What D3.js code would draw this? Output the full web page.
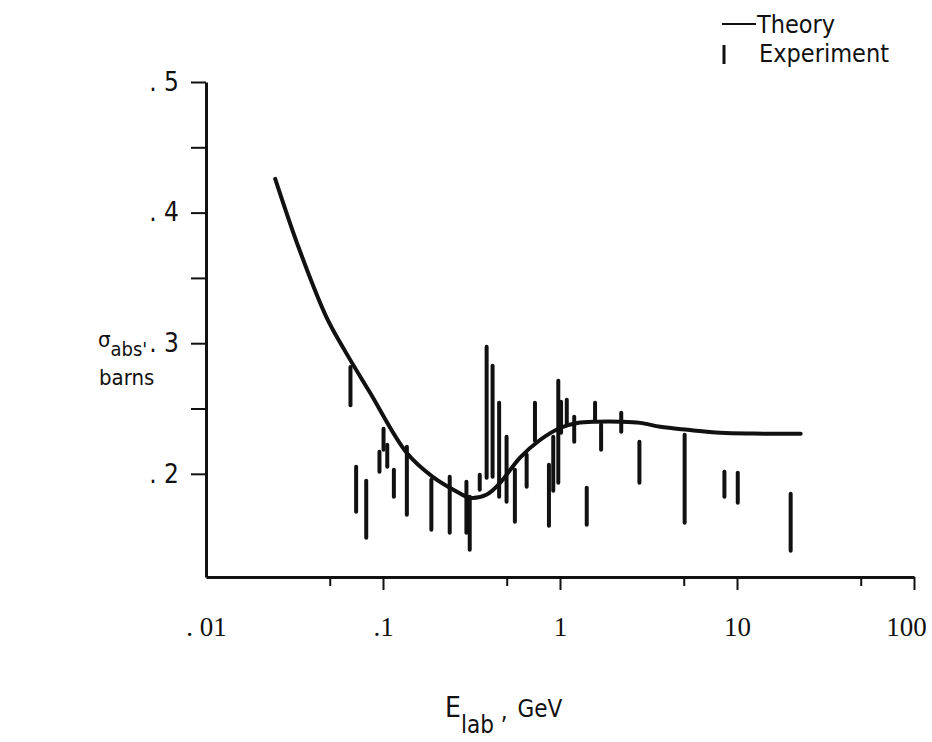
<!DOCTYPE html>
<html>
<head>
<meta charset="utf-8">
<script src="https://cdn.jsdelivr.net/npm/d3@7"></script>
<style>
  body { margin: 0; background: #fff; }
  .sans { font-family: "DejaVu Sans Condensed", "Liberation Sans Narrow", "DejaVu Sans", sans-serif; font-stretch: condensed; }
</style>
</head>
<body>
<div id="chart"></div>
<script>
// Theory curve (E in GeV, sigma in barns)
const theoryEnergy = [0.0246, 0.0337, 0.0479, 0.0605, 0.0839, 0.136, 0.191, 0.271, 0.309, 0.386,
    0.457, 0.593, 0.771, 1.0, 1.25, 1.62, 2.19, 2.84, 3.69, 5.25, 8.07, 12.4, 22.9];
const theorySigma = [0.4259, 0.3717, 0.3200, 0.2949, 0.2628, 0.2161, 0.1977, 0.1852, 0.1816, 0.1842,
    0.1928, 0.2123, 0.2259, 0.2351, 0.2389, 0.2399, 0.2399, 0.2390, 0.2360, 0.2337, 0.2314, 0.2308, 0.2307];

// Experimental points: energy and the top / bottom of each error bar
const expEnergy = [0.0655, 0.0705, 0.0804, 0.0955, 0.1007, 0.1057, 0.1152, 0.1364, 0.1876, 0.2382,
    0.296, 0.309, 0.352, 0.385, 0.416, 0.453, 0.499, 0.556, 0.648, 0.722,
    0.866, 0.916, 0.978, 1.014, 1.092, 1.203, 1.416, 1.578, 1.707, 2.218,
    2.81, 5.06, 8.49, 10.1, 20.1];
const expHigh = [0.2817, 0.2054, 0.1947, 0.2169, 0.2345, 0.2222, 0.2031, 0.2207, 0.1954, 0.1977,
    0.1939, 0.1824, 0.1993, 0.2973, 0.2827, 0.2544, 0.2284, 0.2031, 0.2146, 0.2544,
    0.2069, 0.2284, 0.2712, 0.2552, 0.2567, 0.2437, 0.1894, 0.2544, 0.2375, 0.2467,
    0.2245, 0.2299, 0.2016, 0.2009, 0.1847];
const expLow = [0.2525, 0.1709, 0.1511, 0.2016, 0.2184, 0.2054, 0.1824, 0.1686, 0.1571, 0.1549,
    0.1549, 0.1419, 0.1878, 0.1969, 0.1977, 0.1824, 0.1786, 0.1633, 0.1901, 0.2252,
    0.1603, 0.1871, 0.1932, 0.2314, 0.2375, 0.2245, 0.1611, 0.2414, 0.2184, 0.2322,
    0.1932, 0.1626, 0.1824, 0.1779, 0.1411];

// Ticks
const yTicks = [0.2, 0.25, 0.3, 0.35, 0.4, 0.45, 0.5];
const yTickLabels = [". 2", "", ". 3", "", ". 4", "", ". 5"];
const xTicks = [0.01, 0.05, 0.1, 0.5, 1, 5, 10, 50, 100];
const xTickLabels = [". 01", "", ".1", "", "1", "", "10", "", "100"];

const width = 932;
const height = 742;

const svg = d3.select("#chart")
    .append("svg")
    .attr("width", width)
    .attr("height", height)
    .style("background", "#fff");

// Scales
const x = d3.scaleLog()
    .domain([0.01, 100])
    .range([206, 914]);

const y = d3.scaleLinear()
    .domain([0.121, 0.5])
    .range([577, 82]);

// Y axis
const yAxis = svg.append("g")
    .attr("transform", "translate(206,0)")
    .call(d3.axisLeft(y)
        .tickValues(yTicks)
        .tickSize(15)
        .tickSizeOuter(0)
        .tickPadding(12)
        .tickFormat((d, i) => yTickLabels[i]));

yAxis.selectAll("text")
    .attr("class", "sans")
    .style("font-size", "26px")
    .attr("fill", "#111");

// X axis
const xAxis = svg.append("g")
    .attr("transform", "translate(0,577)")
    .call(d3.axisBottom(x)
        .tickValues(xTicks)
        .tickSize(13)
        .tickSizeOuter(0)
        .tickPadding(27)
        .tickFormat((d, i) => xTickLabels[i]));

xAxis.selectAll("text")
    .style("font-family", "'Liberation Serif', serif")
    .style("font-size", "27px")
    .attr("fill", "#111")
    .attr("dx", (d, i) => i === xTicks.length - 1 ? -8 : 0);

// minor ticks are shorter, first tick sits on the corner
xAxis.selectAll(".tick line")
    .attr("y2", (d, i) => xTickLabels[i] === "" ? 9 : 13)
    .attr("opacity", (d, i) => i === 0 ? 0 : 1);

svg.selectAll(".domain")
    .attr("stroke", "#111")
    .attr("stroke-width", 3);
svg.selectAll(".tick line")
    .attr("stroke", "#111")
    .attr("stroke-width", 2);

// Experimental bars
svg.append("g")
    .selectAll("line")
    .data(expEnergy)
    .join("line")
    .attr("x1", d => x(d))
    .attr("x2", d => x(d))
    .attr("y1", (d, i) => y(expHigh[i]))
    .attr("y2", (d, i) => y(expLow[i]))
    .attr("stroke", "#111")
    .attr("stroke-width", 4)
    .attr("stroke-linecap", "round");

// Theory curve
const line = d3.line()
    .x(d => x(d[0]))
    .y(d => y(d[1]))
    .curve(d3.curveCatmullRom.alpha(0.5));

svg.append("path")
    .datum(theoryEnergy.map((e, i) => [e, theorySigma[i]]))
    .attr("d", line)
    .attr("fill", "none")
    .attr("stroke", "#111")
    .attr("stroke-width", 4)
    .attr("stroke-linecap", "round");

// Y axis title
const yTitle = svg.append("text")
    .attr("class", "sans")
    .attr("x", 98)
    .attr("y", 347)
    .attr("fill", "#111")
    .style("font-size", "22px");
yTitle.append("tspan").text("σ");
yTitle.append("tspan").attr("dy", 9).style("font-size", "20px").text("abs'");

svg.append("text")
    .attr("class", "sans")
    .attr("x", 99)
    .attr("y", 385)
    .attr("fill", "#111")
    .style("font-size", "22px")
    .text("barns");

// X axis title
const xTitle = svg.append("text")
    .attr("class", "sans")
    .attr("x", 445)
    .attr("y", 717)
    .attr("fill", "#111")
    .style("font-size", "28px");
xTitle.append("tspan").text("E");
xTitle.append("tspan").attr("dy", 16).style("font-size", "24px").text("lab");
xTitle.append("tspan").attr("dy", -14).style("font-size", "24px").text(" ,");
xTitle.append("tspan").attr("dy", -2).attr("dx", 10).style("font-size", "24px").text("GeV");

// Legend
svg.append("line")
    .attr("x1", 722).attr("x2", 756)
    .attr("y1", 24).attr("y2", 24)
    .attr("stroke", "#111")
    .attr("stroke-width", 2);
svg.append("text")
    .attr("class", "sans")
    .attr("x", 757)
    .attr("y", 33)
    .attr("fill", "#111")
    .style("font-size", "25px")
    .text("Theory");

svg.append("line")
    .attr("x1", 724).attr("x2", 724)
    .attr("y1", 45).attr("y2", 64)
    .attr("stroke", "#111")
    .attr("stroke-width", 3);
svg.append("text")
    .attr("class", "sans")
    .attr("x", 759)
    .attr("y", 62)
    .attr("fill", "#111")
    .style("font-size", "25px")
    .text("Experiment");
</script>
</body>
</html>
